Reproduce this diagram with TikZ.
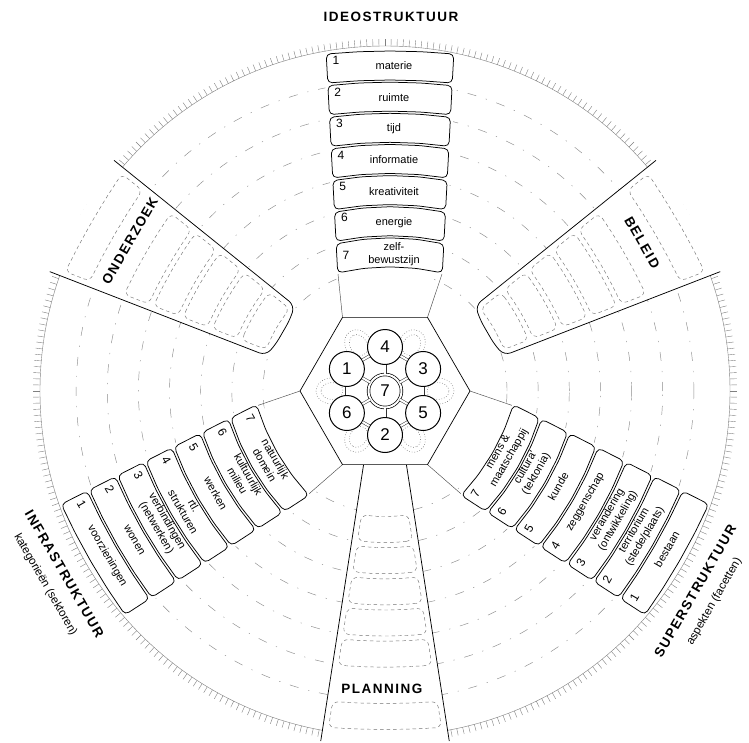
\documentclass[tikz,border=0pt]{standalone}
\usepackage{fontspec}
\setmainfont{Liberation Sans}
\newfontfamily\boxfont{Liberation Sans}
\newfontfamily\titfont[LetterSpace=11]{Liberation Sans}
\newcommand\trot{0}
\newcommand\nsg{-1}
\newcommand\sname{ideo}
% structure box: #1 ring, #2 number, #3 label, #4 number offset
\newcommand\SBox[4]{%
  \pgfmathsetmacro\vo{340-31.14*(#1-1)}%
  \pgfmathsetmacro\vi{\vo-29}%
  \pgfmathsetmacro\wo{45.7+0.0532*\vo}%
  \pgfmathsetmacro\wi{45.7+0.0532*\vi}%
  \pgfmathsetmacro\sg{3+3*(340-\vo)/187}%
  \pgfmathsetmacro\vm{(\vo+\vi)/2-0.45*\sg}%
  \pgfmathsetmacro\wm{45.7+0.0532*\vm}%
  \draw[boxline] (-\wo,\vo-\sg) -- (-\wo/2,\vo-\sg/4) -- (0,\vo) -- (\wo/2,\vo-\sg/4) -- (\wo,\vo-\sg)
     -- (\wi,\vi-\sg) -- (\wi/2,\vi-\sg/4) -- (0,\vi) -- (-\wi/2,\vi-\sg/4) -- (-\wi,\vi-\sg) -- cycle;
  \node[boxtext, rotate=\trot] (b\sname#1) at ({-(\nsg)*4},{\vm-(\nsg)*1}) {#3};
  \node[numtext, rotate=\trot] (n\sname#1) at ({(\nsg)*(\wm-9)},{\vm-(\nsg)*(#4)}) {#2};
}
% dashed cell in a process strip
\newcommand\PCell[1]{%
  \pgfmathsetmacro\vo{340-31.14*(#1-1)-1.5}%
  \pgfmathsetmacro\vi{\vo-26}%
  \pgfmathsetmacro\wo{10+0.155*\vo-6}%
  \pgfmathsetmacro\wi{10+0.155*\vi-6}%
  \draw[cellline] (-\wo,\vo-2) -- (-\wo/2,\vo-0.5) -- (0,\vo) -- (\wo/2,\vo-0.5) -- (\wo,\vo-2)
     -- (\wi,\vi-2) -- (\wi/2,\vi-0.5) -- (0,\vi) -- (-\wi/2,\vi-0.5) -- (-\wi,\vi-2) -- cycle;
}
% process strip: #1 inner start, #2 closed end (1) or open (0)
\newcommand\PStrip[2]{%
  \pgfmathsetmacro\ws{10+0.155*#1}%
  \ifnum#2=1
    \fill[white] (-64.25,352) -- (-\ws,#1) -- (-\ws/2,#1-3) -- (\ws/2,#1-3) -- (\ws,#1) -- (64.25,352) -- cycle;
    \draw[stripline, rounded corners=7pt] (-64.25,350) -- (-\ws,#1) -- (-\ws/2,#1-3) -- (\ws/2,#1-3) -- (\ws,#1) -- (64.25,350);
  \else
    \fill[white] (-64.25,352) -- (-\ws,#1) -- (\ws,#1) -- (64.25,352) -- cycle;
    \draw[stripline] (-\ws,#1) -- (-64.25,350);
    \draw[stripline] (\ws,#1) -- (64.25,350);
  \fi
  \foreach \k in {1,3,4,5,6,7} {\PCell{\k}}
}
\tikzset{
  boxline/.style={draw=black, line width=0.75pt, fill=white, rounded corners=4.5pt},
  cellline/.style={draw=black!55, line width=0.45pt, dash pattern=on 3.5pt off 3pt, rounded corners=6pt},
  stripline/.style={draw=black, line width=0.75pt},
  ringdash/.style={draw=black!45, line width=0.45pt, dash pattern=on 9pt off 10pt on 1.2pt off 10pt},
  rimline/.style={draw=black!50, line width=0.4pt},
  tickline/.style={draw=black!50, line width=0.4pt},
  thinline/.style={draw=black!70, line width=0.45pt},
  boxtext/.style={font=\boxfont\fontsize{11}{12.5}\selectfont, align=center, inner sep=0pt},
  numtext/.style={font=\boxfont\fontsize{12}{12}\selectfont, inner sep=0pt},
  titletext/.style={font=\titfont\bfseries\fontsize{13.5}{14}\selectfont, inner sep=0pt},
  subtext/.style={font=\boxfont\fontsize{11.5}{12}\selectfont, inner sep=0pt},
  hexline/.style={draw=black, line width=0.7pt},
  ccircle/.style={circle, draw=black, line width=1pt, fill=white, minimum size=35pt, inner sep=0pt, font=\fontsize{17}{17}\selectfont},
  bridge/.style={draw=black!80, line width=0.5pt, double=white, double distance=2pt},
  lobe/.style={draw=black!55, line width=0.6pt, dotted},
}
\begin{document}
\begin{tikzpicture}[x=1pt, y=1pt, line join=round]
\useasboundingbox (-385,-351) rectangle (364,391);
\clip (-385,-351) rectangle (364,391);
\fill[white] (-385,-351) rectangle (364,391);

% concentric dashed rings
\foreach \j in {1,...,7} {
  \pgfmathsetmacro\rr{340-31.14*\j}
  \draw[ringdash] (0,0) circle[radius=\rr];
}
% rim with ticks
\draw[rimline] (0,0) circle[radius=345];
\foreach \a in {0,1,...,359} { \draw[tickline] (\a:345) -- (\a:352); }

% process strips
\begin{scope}[rotate=-60] \PStrip{121}{1} \end{scope}
\begin{scope}[rotate=180] \PStrip{73.6}{0} \end{scope}
\begin{scope}[rotate=60] \PStrip{121}{1} \end{scope}
\node[titletext, rotate=-60] (tbeleid) at (30:297) {BELEID};
\node[titletext] (tplanning) at (-90.6:298) {PLANNING};
\node[titletext, rotate=60] (tonderzoek) at (149.5:296) {ONDERZOEK};

% IDEOSTRUKTUUR
\begin{scope}[xshift=5pt]
  \renewcommand\trot{0}\renewcommand\nsg{-1}\renewcommand\sname{ideo}
  \fill[white] (-65,312) -- (65,312) -- (55,113) -- (-55,113) -- cycle;
  \SBox{1}{1}{materie}{6}
  \SBox{2}{2}{ruimte}{6}
  \SBox{3}{3}{tijd}{6}
  \SBox{4}{4}{informatie}{6}
  \SBox{5}{5}{kreativiteit}{6}
  \SBox{6}{6}{energie}{6}
  \SBox{7}{7}{zelf-\\bewustzijn}{0}
\end{scope}
\draw[thinline] (120:85) -- (-47,117);
\draw[thinline] (60:85) -- (57,117);
\node[titletext] (tideo) at (6,374) {IDEOSTRUKTUUR};

% SUPERSTRUKTUUR
\begin{scope}[rotate=-120]
  \renewcommand\trot{60}\renewcommand\nsg{1}\renewcommand\sname{super}
  \fill[white] (-65,312) -- (65,312) -- (55,113) -- (-55,113) -- cycle;
  \SBox{1}{1}{bestaan}{5}
  \SBox{2}{2}{territorium\\(stede/plaats)}{6}
  \SBox{3}{3}{verandering\\(ontwikkeling)}{6}
  \SBox{4}{4}{zeggenschap}{5}
  \SBox{5}{5}{kunde}{5}
  \SBox{6}{6}{cultura'\\(tektonia)}{6}
  \SBox{7}{7}{mens \&\\maatschappij}{6}
  \draw[thinline] (-42.5,73.6) -- (-51,117);
  \draw[thinline] (42.5,73.6) -- (51,117);
\end{scope}
\node[titletext, rotate=60] (tsuper) at (-32.8:369) {SUPERSTRUKTUUR};
\node[subtext, rotate=60] (ssuper) at (-32.6:391) {aspekten (facetten)};

% INFRASTRUKTUUR
\begin{scope}[rotate=120]
  \renewcommand\trot{-60}\renewcommand\nsg{1}\renewcommand\sname{infra}
  \fill[white] (-65,312) -- (65,312) -- (55,113) -- (-55,113) -- cycle;
  \SBox{1}{1}{voorzieningen}{5}
  \SBox{2}{2}{wonen}{5}
  \SBox{3}{3}{verbindingen\\(netwerken)}{6}
  \SBox{4}{4}{rtl.\\strukturen}{6}
  \SBox{5}{5}{werken}{5}
  \SBox{6}{6}{kultuurlijk\\milieu}{6}
  \SBox{7}{7}{natuurlijk\\domein}{6}
  \draw[thinline] (-42.5,73.6) -- (-51,117);
  \draw[thinline] (42.5,73.6) -- (51,117);
\end{scope}
\node[titletext, rotate=-60] (tinfra) at (209.7:369) {INFRASTRUKTUUR};
\node[subtext, rotate=-60] (sinfra) at (209.7:391) {kategorieën (sektoren)};

% central hexagon
\draw[hexline, fill=white] (0:85) -- (60:85) -- (120:85) -- (180:85) -- (240:85) -- (300:85) -- cycle;
\foreach \m in {0,60,...,300} {
  \draw[lobe, rotate around={\m:(\m:53)}] (\m:53) ellipse[x radius=16, y radius=13];
  \draw[lobe, rotate around={\m:(\m:53)}] (\m:53) ellipse[x radius=11, y radius=8.5];
}
\node[ccircle, double=white, double distance=2pt, line width=0.7pt, minimum size=33pt] (c7) at (0,0) {7};
\node[ccircle] (c4) at (90:44) {4};
\node[ccircle] (c3) at (30:44) {3};
\node[ccircle] (c5) at (-30:44) {5};
\node[ccircle] (c2) at (-90:44) {2};
\node[ccircle] (c6) at (210:44) {6};
\node[ccircle] (c1) at (150:44) {1};
\foreach \a/\b in {c7/c1,c7/c2,c7/c3,c7/c4,c7/c5,c7/c6,c4/c3,c3/c5,c5/c2,c2/c6,c6/c1,c1/c4}
  \draw[bridge] (\a) -- (\b);
\end{tikzpicture}
\end{document}
